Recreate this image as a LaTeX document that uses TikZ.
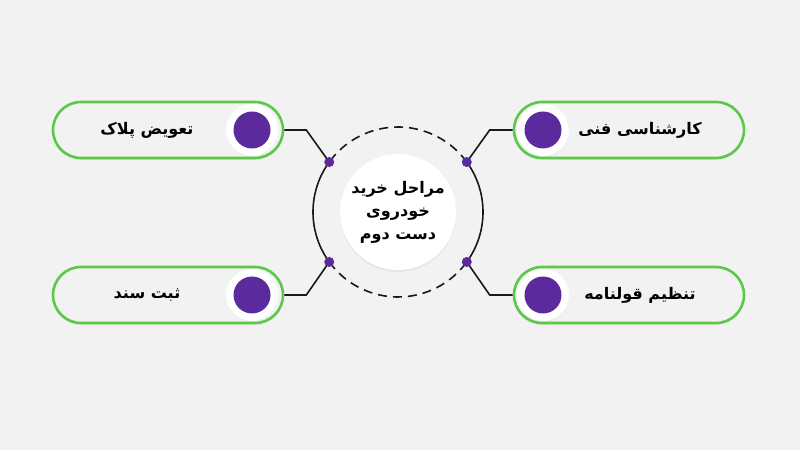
\documentclass[tikz,border=0pt]{standalone}
\usepackage{fontspec}
\usepackage{xcolor}
\usetikzlibrary{shadows}
\usetikzlibrary{positioning}
\TeXXeTstate=1
\newfontfamily\arabicfont[Script=Arabic]{DejaVu Sans}
\definecolor{stepgreen}{HTML}{5CC84A}
\definecolor{steppurple}{HTML}{5B2A9C}
\definecolor{bggray}{HTML}{F2F2F2}

\begin{document}
\begin{tikzpicture}[x=1pt,y=1pt]
\tikzset{steppill/.style={rectangle,rounded corners=28pt,minimum width=230pt,minimum height=56pt,draw=stepgreen,line width=2.6pt,fill=bggray,drop shadow={opacity=0.12,shadow xshift=0pt,shadow yshift=-2pt}},
halo/.style={circle,fill=white,minimum size=52pt,inner sep=0pt,drop shadow={opacity=0.08,shadow xshift=0pt,shadow yshift=-1pt}},
bigdot/.style={circle,fill=steppurple,minimum size=37pt,inner sep=0pt},
smalldot/.style={circle,fill=steppurple,minimum size=10pt,inner sep=0pt},
steplabel/.style={font=\arabicfont\bfseries\fontsize{16}{18}\selectfont,text=black},
wire/.style={line width=1.6pt,draw=black!90}}
\fill[bggray] (0,0) rectangle (800,450);
\useasboundingbox (0,0) rectangle (800,450);
% ring round the title
\node[circle,minimum size=170pt,inner sep=0pt,outer sep=0pt](ring) at (398,238){};
\draw[wire] (ring.-36) arc[start angle=-36,end angle=36,radius=85pt];
\draw[wire] (ring.144) arc[start angle=144,end angle=216,radius=85pt];
\draw[wire,dash pattern=on 9pt off 6pt] (ring.36) arc[start angle=36,end angle=144,radius=85pt];
\draw[wire,dash pattern=on 9pt off 6pt] (ring.216) arc[start angle=216,end angle=324,radius=85pt];
\node[circle,fill=white,minimum size=116pt,inner sep=0pt,drop shadow={opacity=0.1,shadow xshift=0pt,shadow yshift=-2pt},align=center,font=\arabicfont\bfseries\fontsize{16}{23}\selectfont](c) at (398,238){\beginR مراحل خرید\endR\\\beginR خودروی\endR\\\beginR دست دوم\endR};
% pills
\node[steppill](a) at (168,320){};
\node[halo](ah) at (252,320){};
\node[bigdot] at (ah){};
\node[steplabel](at) at ([xshift=-21pt]a.center){\beginR تعویض پلاک\endR};
\node[steppill](b) at (629,320){};
\node[halo](bh) at (543,320){};
\node[bigdot] at (bh){};
\node[steplabel](bt) at ([xshift=11pt]b.center){\beginR کارشناسی فنی\endR};
\node[steppill](d) at (168,155){};
\node[halo](dh) at (252,155){};
\node[bigdot] at (dh){};
\node[steplabel](dt) at ([xshift=-21pt]d.center){\beginR ثبت سند\endR};
\node[steppill](e) at (629,155){};
\node[halo](eh) at (543,155){};
\node[bigdot] at (eh){};
\node[steplabel](et) at ([xshift=11pt]e.center){\beginR تنظیم قولنامه\endR};
% connectors
\draw[wire](a.east) -- ++(22,0) -- (ring.144);
\draw[wire](b.west) -- ++(-23,0) -- (ring.36);
\draw[wire](d.east) -- ++(22,0) -- (ring.216);
\draw[wire](e.west) -- ++(-23,0) -- (ring.324);
\foreach \ang in {36,144,216,324}
  \node[smalldot] at (ring.\ang){};
\end{tikzpicture}
\end{document}
